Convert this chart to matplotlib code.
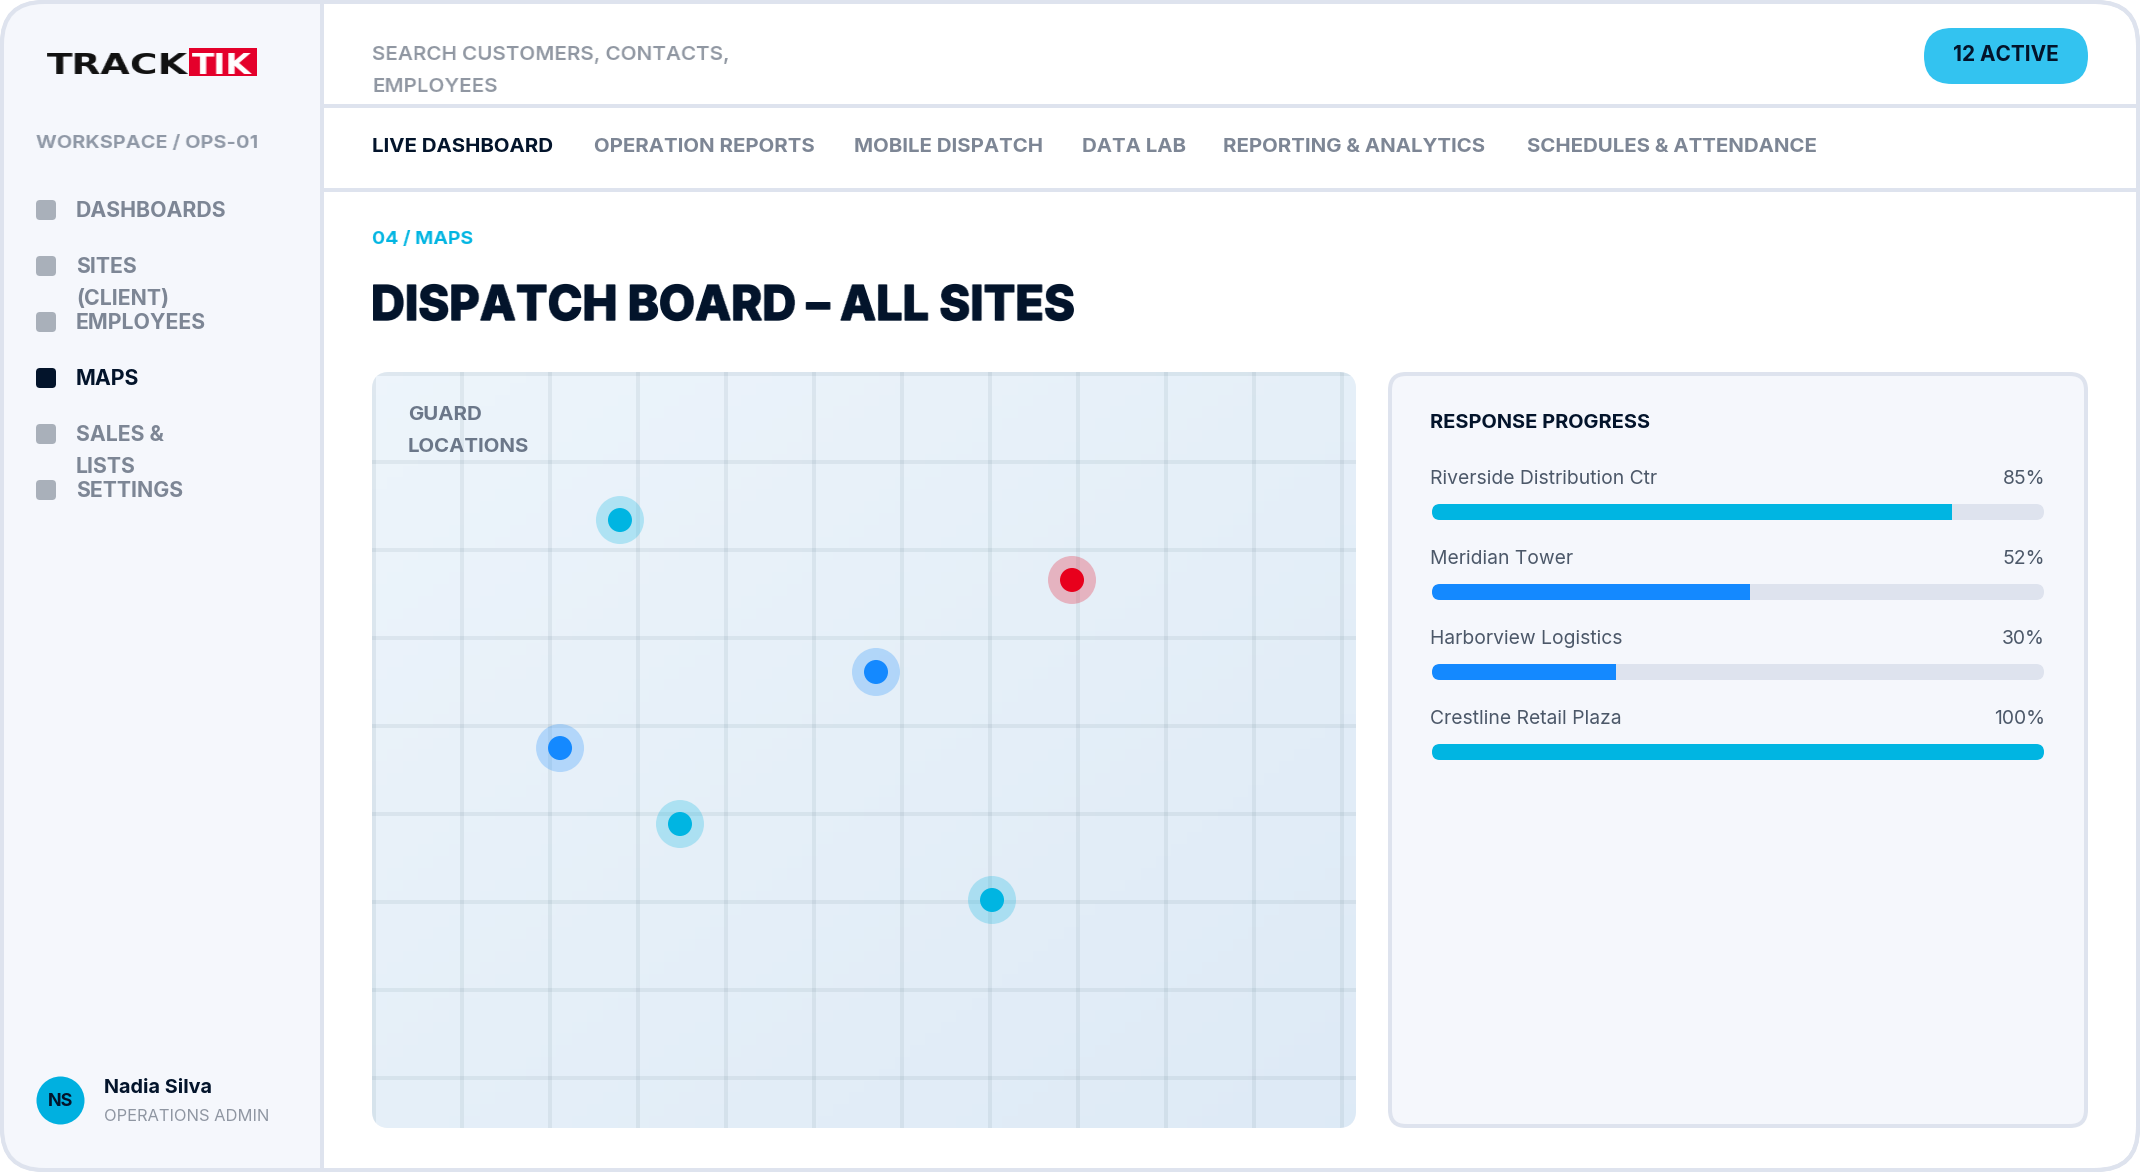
"""Dispatch board mock-up, drawn on a pixel-sized canvas."""

import numpy as np
import matplotlib
matplotlib.use("Agg")
import matplotlib.pyplot as plt
import matplotlib.patheffects as pe
from matplotlib.patches import FancyBboxPatch, Rectangle

W, H = 2140, 1172
DPI = 100

INK = "#03142b"
CYAN = "#00b5e2"
BLUE = "#1489ff"
RED = "#e8001c"
LINE = "#dee3ee"
PANEL = "#f5f7fc"

NAV_ITEMS = ["LIVE DASHBOARD", "OPERATION REPORTS", "MOBILE DISPATCH", "DATA LAB",
             "REPORTING & ANALYTICS", "SCHEDULES & ATTENDANCE"]
NAV_X = [372, 594, 854, 1082, 1223, 1527]

SIDE_ICONS_Y = [200, 256, 312, 368, 424, 480]
SIDE_ACTIVE = 3
SIDE_TEXT = ["DASHBOARDS", "SITES", "(CLIENT)", "EMPLOYEES", "MAPS", "SALES &", "LISTS", "SETTINGS"]
SIDE_TEXT_Y = [209, 265, 297, 321, 377, 433, 465, 489]

SITES = ["Riverside Distribution Ctr", "Meridian Tower", "Harborview Logistics", "Crestline Retail Plaza"]
PROGRESS = [85, 52, 30, 100]
PROGRESS_COLORS = [CYAN, BLUE, BLUE, CYAN]

# Guard positions, percent of the map width and height.
GUARD_X = [25.20, 71.14, 51.22, 19.11, 31.30, 63.01]
GUARD_Y = [19.58, 27.51, 39.68, 49.74, 59.79, 69.84]
GUARD_COLORS = [CYAN, RED, BLUE, BLUE, CYAN, CYAN]

plt.rcParams["font.family"] = ["Inter", "DejaVu Sans"]

fig = plt.figure(figsize=(W / DPI, H / DPI), dpi=DPI, facecolor="white")
ax = fig.add_axes([0, 0, 1, 1])
ax.set_xlim(0, W)
ax.set_ylim(H, 0)
ax.axis("off")


def px(n):
    return n * 72 / DPI


def box_axes(x0, y0, x1, y1):
    return fig.add_axes([x0 / W, 1 - y1 / H, (x1 - x0) / W, (y1 - y0) / H])


def round_box(x0, y0, x1, y1, r, **kw):
    p = FancyBboxPatch((x0 + r, y0 + r), x1 - x0 - 2 * r, y1 - y0 - 2 * r,
                       boxstyle=f"round,pad={r},rounding_size={r}", **kw)
    ax.add_patch(p)
    return p


def stretch_x(factor):
    # matplotlib has no letter-spacing, so tracked text gets widened after drawing.
    def run(img, dpi):
        h, w = img.shape[:2]
        src = np.linspace(0, w - 1, int(round(w * factor)))
        lo = np.minimum(src.astype(int), w - 2)
        t = (src - lo)[None, :, None]
        return img[:, lo] * (1 - t) + img[:, lo + 1] * t, 0, 0
    return run


def label(x, y, s, size, color, weight="normal", ha="left", stretch=None, target=ax, **kw):
    t = target.text(x, y, s, fontsize=px(size), color=color, fontweight=weight,
                    ha=ha, va="center_baseline", **kw)
    if stretch:
        t.set_agg_filter(stretch_x(stretch))
    return t


# Outer frame and sidebar
frame = round_box(2, 2, W - 2, H - 2, 42, fc="white", ec=LINE, lw=px(4), zorder=1)
side = Rectangle((4, 4), 316, H - 8, fc=PANEL, ec="none", zorder=1.1)
ax.add_patch(side)
side.set_clip_path(frame)
ax.add_patch(Rectangle((320, 4), 4, H - 8, fc=LINE, ec="none", zorder=1.2))
ax.add_patch(Rectangle((324, 104), W - 328, 4, fc=LINE, ec="none", zorder=1.2))
ax.add_patch(Rectangle((324, 188), W - 328, 4, fc=LINE, ec="none", zorder=1.2))
round_box(2, 2, W - 2, H - 2, 42, fc="none", ec=LINE, lw=px(4), zorder=1.3)

# Logo
label(47, 63, "TRACK", 29, "#111111", "bold", stretch=1.3, family="DejaVu Sans", zorder=3)
ax.add_patch(Rectangle((189, 48), 68, 28, fc="#e4002b", ec="none", zorder=2))
label(192, 63, "TIK", 29, "white", "bold", stretch=1.14, family="DejaVu Sans", zorder=3)

label(36, 141, "WORKSPACE / OPS-01", 18, "#8f98a6", "bold", stretch=1.118, zorder=3)

for i, y in enumerate(SIDE_ICONS_Y):
    c = INK if i == SIDE_ACTIVE else "#a9b0ba"
    round_box(36, y, 56, y + 20, 4, fc=c, ec="none", zorder=3)
for s, y in zip(SIDE_TEXT, SIDE_TEXT_Y):
    label(76, y, s, 21.3, INK if s == "MAPS" else "#7d8695", "bold", zorder=3)

# User
ax.scatter([60], [1100], s=px(48) ** 2, color="#00b0e0", linewidths=0, zorder=3)
label(60.5, 1099, "NS", 18, INK, "bold", ha="center", zorder=4)
label(104, 1086, "Nadia Silva", 19.8, INK, "bold", zorder=3)
label(104, 1115, "OPERATIONS ADMIN", 16.5, "#8f96a2", zorder=3)

# Header
label(372, 53, "SEARCH CUSTOMERS, CONTACTS,", 20, "#9097a2", "semibold", stretch=1.035, zorder=3)
label(372, 85, "EMPLOYEES", 20, "#9097a2", "semibold", stretch=1.035, zorder=3)
round_box(1924, 28, 2088, 84, 28, fc="#33c3f0", ec="none", zorder=2)
label(2006, 53, "12 ACTIVE", 20.8, INK, "bold", ha="center", zorder=3)

for i, (s, x) in enumerate(zip(NAV_ITEMS, NAV_X)):
    label(x, 145, s, 20.4, INK if i == 0 else "#7d8695", "bold", zorder=3)

label(372, 238, "04 / MAPS", 18, CYAN, "bold", stretch=1.09, zorder=3)
title = label(371, 302, "DISPATCH BOARD – ALL SITES", 48, INK, "heavy", stretch=0.976, zorder=3)
title.set_path_effects([pe.withStroke(linewidth=px(1.4), foreground=INK)])

# Map card
map_clip = round_box(372, 372, 1356, 1128, 18, fc="#e6eff9", ec="none", zorder=2)
map_ax = box_axes(372, 372, 1356, 1128)
map_ax.patch.set_alpha(0)
map_ax.set_xlim(0, 100)
map_ax.set_ylim(100, 0)
map_ax.axis("off")

yy, xx = np.mgrid[0:1:64j, 0:1:64j]
ramp = np.clip((xx + yy) / 2, 0, 1)[..., None]
grad = np.array([0.930, 0.960, 0.985]) * (1 - ramp) + np.array([0.870, 0.918, 0.965]) * ramp
bg = map_ax.imshow(grad, extent=(0, 100, 100, 0), aspect="auto", zorder=1)
bg.set_clip_path(map_clip)

# 4 px grid lines every 88 px from the card's corner
for x in range(372, 1356, 88):
    r = map_ax.add_patch(Rectangle((x, 372), 4, 756, fc="#1e465a", alpha=0.07, ec="none", zorder=2,
                                   transform=ax.transData))
    r.set_clip_path(map_clip)
for y in range(372, 1128, 88):
    r = map_ax.add_patch(Rectangle((372, y), 984, 4, fc="#1e465a", alpha=0.07, ec="none", zorder=2,
                                   transform=ax.transData))
    r.set_clip_path(map_clip)

map_ax.scatter(GUARD_X, GUARD_Y, s=px(48) ** 2, c=GUARD_COLORS, alpha=0.25, linewidths=0, zorder=3)
map_ax.scatter(GUARD_X, GUARD_Y, s=px(24) ** 2, c=GUARD_COLORS, linewidths=0, zorder=4)
label((408 - 372) / 9.84, (413 - 372) / 7.56, "GUARD", 20.4, "#6b7789", "bold", target=map_ax, zorder=5)
label((408 - 372) / 9.84, (445 - 372) / 7.56, "LOCATIONS", 20.4, "#6b7789", "bold", target=map_ax, zorder=5)

# Progress panel
round_box(1390, 374, 2086, 1126, 16, fc=PANEL, ec=LINE, lw=px(4), zorder=2)
label(1430, 421, "RESPONSE PROGRESS", 20, INK, "bold", zorder=3)

ROW_Y = [512, 592, 672, 752]
tracks = []
for y, s, v in zip(ROW_Y, SITES, PROGRESS):
    tracks.append(round_box(1432, y - 8, 2044, y + 8, 8, fc=LINE, ec="none", zorder=3))
    label(1430, y - 35, s, 19.3, "#4c5869", zorder=3)
    label(2045, y - 35, f"{v}%", 19.3, "#4c5869", ha="right", zorder=3)

bar_ax = box_axes(1432, 504, 2044, 760)
bar_ax.patch.set_alpha(0)
bar_ax.set_xlim(0, 100)
bar_ax.set_ylim(3.1, -0.1)
bar_ax.axis("off")
bars = bar_ax.barh(range(len(PROGRESS)), PROGRESS, height=0.2, color=PROGRESS_COLORS, linewidth=0)
for b, t in zip(bars, tracks):
    b.set_clip_path(t)

fig.savefig("out.png", dpi=DPI, facecolor="white")
